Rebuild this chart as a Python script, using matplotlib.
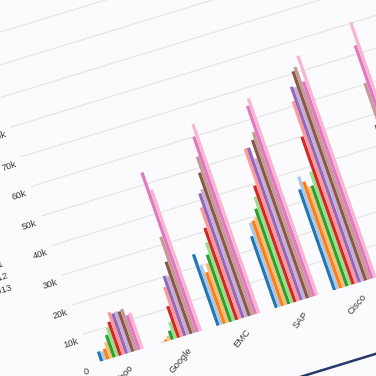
import numpy as np
import matplotlib
matplotlib.use("Agg")
import matplotlib.pyplot as plt
from matplotlib.transforms import Affine2D, offset_copy
import mpl_toolkits.axisartist.floating_axes as floating_axes
from mpl_toolkits.axisartist.grid_finder import FixedLocator

plt.rcParams['font.family'] = ['Liberation Sans', 'DejaVu Sans']

# ---------------- data ----------------
companies = ["Yahoo", "Google", "EMC", "SAP", "Cisco", "Apple"]
years = [str(y) for y in range(2000, 2014)]
yahoo  = [3300, 3000, 3600, 5500, 7600, 9800, 11400, 14300, 13600, 13900, 13600, 14100, 11700, 12200]
google = [0, 300, 700, 1600, 3000, 5700, 10700, 16800, 20200, 19800, 24400, 32500, 53900, 47800]
emc    = [24100, 20100, 17400, 20000, 22700, 26500, 31100, 37700, 42100, 43200, 48500, 53600, 60000, 63900]
sap    = [24200, 28400, 28800, 29600, 32200, 35900, 39400, 51500, 51500, 47600, 53500, 55800, 64400, 66600]
cisco  = [34000, 38000, 36000, 34000, 34000, 38400, 49900, 61500, 66100, 65600, 70700, 71800, 66600, 75000]
apple  = [8600, 9600, 10200, 10900, 13400, 16800, 17800, 21600, 32000, 34300, 46600, 60400, 72800, 80300]
y_ticks = list(range(0, 130001, 10000))
y_tick_labels = ["0" if t == 0 else f"{t // 1000}k" for t in y_ticks]

values = np.array([yahoo, google, emc, sap, cisco, apple])
colors = list(plt.get_cmap("tab20").colors[:len(years)])

# ---------------- view (rotated / sheared chart plane) ----------------
W = 376
X_MAX, Y_MAX = 7.0, 130000.0
O = (93.0, 12.0)          # origin in pixels (y up)
U = (58.2, 17.8)          # pixels per category
V = (-10.3e-4, 29.6e-4)   # pixels per value unit
tr = Affine2D.from_values(U[0], U[1], V[0], V[1], O[0], O[1])

corners = tr.transform([[0, 0], [X_MAX, 0], [X_MAX, Y_MAX], [0, Y_MAX]])
xmin, ymin = corners.min(axis=0)
xmax, ymax = corners.max(axis=0)

BG = "#fbfbfd"
fig = plt.figure(figsize=(W / 100, W / 100), dpi=100, facecolor=BG)

grid_helper = floating_axes.GridHelperCurveLinear(
    tr, extremes=(0, X_MAX, 0, Y_MAX),
    grid_locator1=FixedLocator([0.5 + i for i in range(len(companies))]),
    grid_locator2=FixedLocator(y_ticks))

ax = fig.add_axes([xmin / W, ymin / W, (xmax - xmin) / W, (ymax - ymin) / W],
                  axes_class=floating_axes.FloatingAxes, grid_helper=grid_helper)
ax.set_aspect("auto")
ax.set_xlim(xmin, xmax)
ax.set_ylim(ymin, ymax)
ax.axis[:].set_visible(False)
ax.patch.set_facecolor(BG)
ax.patch.set_edgecolor("none")
ax.grid(True, axis="y", color="#e4e6ec", linewidth=0.9)

aux = ax.get_aux_axes(tr)
aux.patch = ax.patch
ax.patch.zorder = 0.9

# bars
n_series = len(years)
group_w = 0.75
bw = group_w / n_series
centers = np.arange(len(companies)) + 0.5
for i in range(n_series):
    off = -group_w / 2 + (i + 0.5) * bw
    aux.bar(centers + off, values[:, i], width=bw, color=colors[i],
            linewidth=0, align="center", zorder=2)

ROT = 17
tc = "#3c3c3c"
# y tick labels
ytr = offset_copy(aux.transData, fig=fig, x=-4.5, y=-7, units="dots")
for t, lab in zip(y_ticks, y_tick_labels):
    aux.text(0, t, lab, transform=ytr, ha="right", va="center", rotation=ROT,
             rotation_mode="anchor", fontsize=6.8, color=tc)

# category labels
xtr = offset_copy(aux.transData, fig=fig, x=10, y=-11, units="dots")
for c, name in zip(centers, companies):
    aux.text(c, 0, name, transform=xtr, ha="right", va="center", rotation=50,
             rotation_mode="anchor", fontsize=6.8, color=tc)

# legend (years stacked down the left side)
for i, yr in enumerate(years):
    aux.text(-0.85, 30900 + (n_series - 1 - i) * 4000, yr, ha="right",
             va="center", rotation=ROT, rotation_mode="anchor",
             fontsize=6.8, color=tc)

# dark frame edge at bottom
aux.plot([0, 9], [-23300, -23300], color="#27386b", linewidth=1.8,
         clip_on=False, solid_capstyle="butt")

fig.savefig("out.png", dpi=100, facecolor=BG)
